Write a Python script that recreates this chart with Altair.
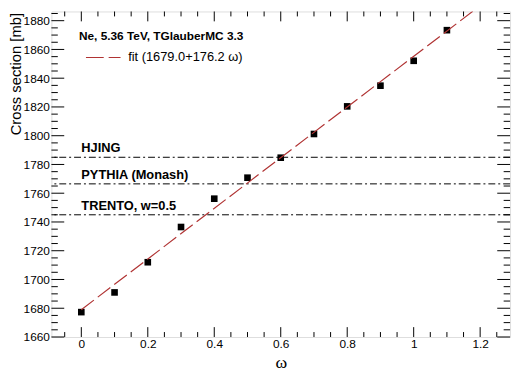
import altair as alt
import pandas as pd

# ---- data ----
omega = [0.0, 0.1, 0.2, 0.3, 0.4, 0.5, 0.6, 0.7, 0.8, 0.9, 1.0, 1.1]
xsec = [1677.3, 1691.0, 1712.0, 1736.5, 1756.2, 1770.8, 1784.7, 1801.2, 1820.4, 1834.8, 1852.1, 1873.4]

fit_intercept = 1679.0
fit_slope = 176.2
fit_range = [0.0, 1.3]

ref_names = ["HJING", "PYTHIA (Monash)", "TRENTO, w=0.5"]
ref_values = [1785.0, 1766.5, 1745.0]

x_major = [0.0, 0.2, 0.4, 0.6, 0.8, 1.0, 1.2]
x_minor = [-0.05, 0.05, 0.1, 0.15, 0.25, 0.3, 0.35, 0.45, 0.5, 0.55, 0.65, 0.7,
           0.75, 0.85, 0.9, 0.95, 1.05, 1.1, 1.15, 1.25]
y_major = [1660, 1680, 1700, 1720, 1740, 1760, 1780, 1800, 1820, 1840, 1860, 1880]
y_minor = [v + d for v in y_major for d in (5, 10, 15) if v + d < 1887]

header_text = ["Ne, 5.36 TeV, TGlauberMC 3.3"]
legend_text = ["fit (1679.0+176.2 ω)"]

W, H = 465, 330
FONT = "Liberation Sans"

xscale = alt.Scale(domain=[-0.09, 1.29], nice=False, zero=False)
yscale = alt.Scale(domain=[1660, 1886.4], nice=False, zero=False)

pts = pd.DataFrame({"w": omega, "s": xsec})
fit = pd.DataFrame({"w": fit_range, "s": [fit_intercept + fit_slope * w for w in fit_range]})
refs = pd.DataFrame({"name": ref_names, "s": ref_values, "w": [0.0] * len(ref_names)})

x_axis = alt.Axis(values=x_major, ticks=False, domain=False, grid=False,
                  labelFont=FONT, labelFontSize=12, labelColor="black", labelPadding=2,
                  labelExpr="datum.value == 0 ? '0' : format(datum.value, '.1~f')",
                  title="ω", titleFont="Liberation Serif", titleFontSize=18,
                  titleFontWeight="normal", titleColor="black",
                  titleY=26, titleBaseline="middle")
y_axis = alt.Axis(values=y_major, ticks=False, domain=False, grid=False, format="d",
                  labelFont=FONT, labelFontSize=12, labelColor="black", labelPadding=2,
                  title="Cross section [mb]", titleFont=FONT, titleFontSize=15,
                  titleFontWeight="normal", titleColor="black",
                  titleAngle=-90, titleAlign="right", titleBaseline="middle",
                  titleX=-36, titleY=1)


def X(field):
    return alt.X(field, scale=xscale, axis=x_axis)


def Y(field):
    return alt.Y(field, scale=yscale, axis=y_axis)


points = alt.Chart(pts).mark_square(size=45, color="black", opacity=1, filled=True).encode(
    x=X("w:Q"), y=Y("s:Q"))

hlines = alt.Chart(refs).mark_rule(color="black", strokeWidth=1, strokeDash=[7, 3, 2, 3]).encode(
    y=Y("s:Q"))

ref_labels = alt.Chart(refs).mark_text(align="left", baseline="alphabetic", dy=-5,
                                       font=FONT, fontSize=13, fontWeight="bold",
                                       color="black").encode(
    x=X("w:Q"), y=Y("s:Q"), text="name:N")

fit_line = alt.Chart(fit).mark_line(color="#b03333", strokeWidth=1.2, strokeDash=[16, 5],
                                    clip=True).encode(x=X("w:Q"), y=Y("s:Q"))

header = alt.Chart(pd.DataFrame({"t": header_text, "w": [-0.007], "s": [1869.2]})).mark_text(
    align="left", baseline="middle", font=FONT, fontSize=12, fontWeight="bold", color="black"
).encode(x=X("w:Q"), y=Y("s:Q"), text="t:N")

leg_line = alt.Chart(pd.DataFrame({"w": [0.014], "w2": [0.118], "s": [1854.4]})).mark_rule(
    color="#b03333", strokeWidth=1.2, strokeDash=[18, 5]
).encode(x=X("w:Q"), x2="w2:Q", y=Y("s:Q"))

leg_text = alt.Chart(pd.DataFrame({"t": legend_text, "w": [0.141], "s": [1854.4]})).mark_text(
    align="left", baseline="middle", font=FONT, fontSize=13, color="black"
).encode(x=X("w:Q"), y=Y("s:Q"), text="t:N")


def xticks(vals, length, top):
    df = pd.DataFrame({"w": vals})
    if top:
        yy, yy2 = alt.value(0), alt.value(length)
    else:
        yy, yy2 = alt.value(H), alt.value(H - length)
    return alt.Chart(df).mark_rule(color="black", strokeWidth=1).encode(
        x=X("w:Q"), y=yy, y2=yy2)


def yticks(vals, length, right):
    df = pd.DataFrame({"s": vals})
    if right:
        xx, xx2 = alt.value(W), alt.value(W - length)
    else:
        xx, xx2 = alt.value(0), alt.value(length)
    return alt.Chart(df).mark_rule(color="black", strokeWidth=1).encode(
        y=Y("s:Q"), x=xx, x2=xx2)


ticks = [
    xticks(x_major, 10, False), xticks(x_minor, 5, False),
    xticks(x_major, 10, True), xticks(x_minor, 5, True),
    yticks(y_major, 13, False), yticks(y_minor, 6.5, False),
    yticks(y_major, 13, True), yticks(y_minor, 6.5, True),
]

chart = alt.layer(points, hlines, ref_labels, fit_line, header, leg_line, leg_text, *ticks).properties(
    width=W, height=H,
    padding={"left": 44, "top": 1, "right": 5, "bottom": 36},
    autosize=alt.AutoSizeParams(type="none"),
).configure_view(stroke="black", strokeWidth=1).configure(background="white")

chart.save("out.html", embed_options={"renderer": "svg", "actions": False})
